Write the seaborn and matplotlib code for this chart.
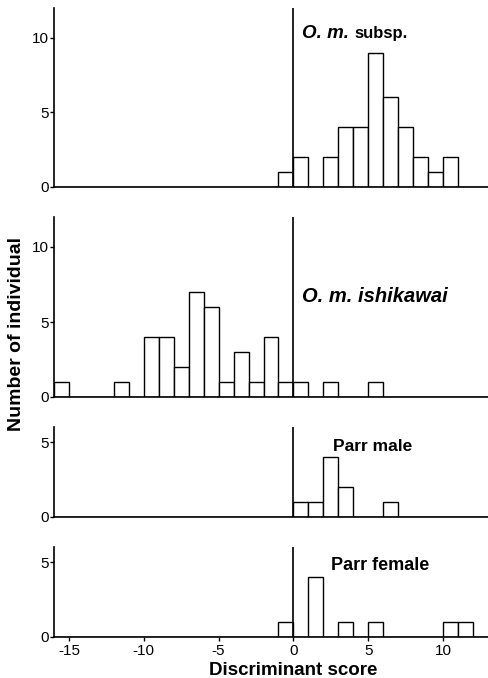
import matplotlib
matplotlib.use("Agg")
import matplotlib.pyplot as plt
import pandas as pd
import seaborn as sns

# ==========================================
# data: discriminant score bins (bin centres) and counts per group
# ==========================================
subsp_scores = [-0.5, 0.5, 2.5, 3.5, 4.5, 5.5, 6.5, 7.5, 8.5, 9.5, 10.5]
subsp_counts = [1, 2, 2, 4, 4, 9, 6, 4, 2, 1, 2]

ishikawai_scores = [-15.5, -11.5, -9.5, -8.5, -7.5, -6.5, -5.5, -4.5, -3.5,
                    -2.5, -1.5, -0.5, 0.5, 2.5, 5.5]
ishikawai_counts = [1, 1, 4, 4, 2, 7, 6, 1, 3, 1, 4, 1, 1, 1, 1]

male_scores = [0.5, 1.5, 2.5, 3.5, 6.5]
male_counts = [1, 1, 4, 2, 1]

female_scores = [-0.5, 1.5, 3.5, 5.5, 10.5, 11.5]
female_counts = [1, 4, 1, 1, 1, 1]

x_ticks = [-15, -10, -5, 0, 5, 10]

sns.set_theme(style="white")
plt.rcParams["font.family"] = ["Liberation Sans", "DejaVu Sans"]
plt.rcParams["axes.unicode_minus"] = False
plt.rcParams["text.color"] = "black"
plt.rcParams["axes.linewidth"] = 1.2
plt.rcParams["xtick.major.width"] = 1.0
plt.rcParams["ytick.major.width"] = 1.0

W, H = 488, 678
fig = plt.figure(figsize=(W / 100, H / 100), dpi=100)

# panel boxes in pixels: (top, bottom), y max
panels = [
    (subsp_scores, subsp_counts, 8, 187, 12, [0, 5, 10]),
    (ishikawai_scores, ishikawai_counts, 217, 397, 12, [0, 5, 10]),
    (male_scores, male_counts, 427, 517, 6, [0, 5]),
    (female_scores, female_counts, 547, 637, 6, [0, 5]),
]

axes = []
for i, (scores, counts, top, bot, ymax, yt) in enumerate(panels):
    ax = fig.add_axes([54 / W, 1 - bot / H, (W - 54) / W, (bot - top) / H])
    df = pd.DataFrame({"score": scores, "n": counts})
    sns.histplot(data=df, x="score", weights="n", binwidth=1, binrange=(-16, 13),
                 ax=ax, color="white", edgecolor="black", linewidth=1.0, alpha=1)
    ax.axvline(0, color="black", lw=1.2)
    ax.set_xlim(-16, 13)
    ax.set_ylim(0, ymax)
    ax.set_yticks(yt)
    ax.set_xticks(x_ticks)
    for s in ["top", "right"]:
        ax.spines[s].set_visible(False)
    ax.spines["left"].set_color("black")
    ax.spines["bottom"].set_color("black")
    ax.set_xlabel("")
    ax.set_ylabel("")
    ax.tick_params(axis="y", left=True, length=3, pad=1, labelsize=11, colors="black")
    if i == 3:
        ax.tick_params(axis="x", bottom=True, length=3, pad=2, labelsize=11, colors="black")
    else:
        ax.tick_params(axis="x", bottom=False, labelbottom=False)
    axes.append(ax)

# group labels
axes[0].text(0.6, 10.0, "O. m.", fontsize=13.5, fontweight="bold", style="italic")
axes[0].text(4.1, 10.0, "subsp.", fontsize=12, fontweight="bold")
axes[1].text(0.6, 6.33, "O. m. ishikawai", fontsize=14.5, fontweight="bold", style="italic")
axes[2].text(2.65, 4.4, "Parr male", fontsize=12.5, fontweight="bold")
axes[3].text(2.5, 4.45, "Parr female", fontsize=13, fontweight="bold")

fig.text(17 / W, 1 - 334 / H, "Number of individual", rotation=90,
         ha="center", va="center", fontsize=14, fontweight="bold")
fig.text(293 / W, 1 - 675 / H, "Discriminant score", ha="center", va="baseline",
         fontsize=13.5, fontweight="bold")

fig.savefig("out.png", dpi=100, facecolor="white")
